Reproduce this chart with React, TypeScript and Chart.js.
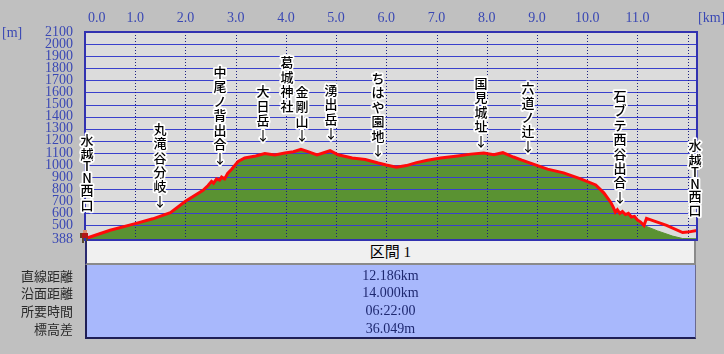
import React, { useEffect, useRef } from "react";
import { Chart, registerables } from "chart.js";

Chart.register(...registerables);

// ---- data ----
const trackKm = [
  0, 0.1, 0.5, 1.0, 1.35, 1.7, 2.0, 2.35, 2.45, 2.52,
  2.56, 2.62, 2.68, 2.72, 2.78, 2.84, 2.92, 3.05, 3.18, 3.4,
  3.58, 3.78, 3.98, 4.15, 4.3, 4.44, 4.62, 4.88, 5.04, 5.32,
  5.58, 5.84, 6.0, 6.2, 6.4, 6.6, 6.82, 7.08, 7.42, 7.68,
  7.94, 8.14, 8.32, 8.53, 8.7, 8.87, 9.01, 9.21, 9.53, 9.87,
  10.17, 10.33, 10.47, 10.52, 10.56, 10.6, 10.65, 10.7, 10.76, 10.82,
  10.88, 10.94, 11.0, 11.06, 11.13, 11.18, 11.58, 11.9, 12.0, 12.186,
];
const trackElev = [
  392, 405, 460, 515, 555, 605, 700, 790, 830, 865,
  850, 885, 875, 900, 885, 930, 965, 1030, 1058, 1075,
  1095, 1083, 1100, 1110, 1130, 1110, 1083, 1118, 1085, 1058,
  1045, 1016, 1000, 982, 995, 1020, 1040, 1058, 1075, 1090,
  1100, 1085, 1102, 1066, 1040, 1016, 995, 966, 935, 885,
  835, 770, 690, 650, 610, 630, 600, 615, 590, 600,
  570, 575, 545, 530, 500, 558, 500, 441, 445, 458,
];
// terrain follows the track until 11.13 km, then its own tail
const terrainTailKm = [11.4, 11.7, 11.9, 12.186];
const terrainTailElev = [455, 412, 392, 390];

const yTicks = [388, 500, 600, 700, 800, 900, 1000, 1100, 1200, 1300, 1400, 1500, 1600, 1700, 1800, 1900, 2000, 2100];
const xTickValues = [0, 1, 2, 3, 4, 5, 6, 7, 8, 9, 10, 11];
const xTickLabels = ["0.0", "1.0", "2.0", "3.0", "4.0", "5.0", "6.0", "7.0", "8.0", "9.0", "10.0", "11.0"];
const xGridKm = [1, 2, 3, 4, 5, 6, 7, 8, 9, 10, 11, 12];

const waypointNames = [
  "水越TN西口", "丸滝谷分岐", "中尾ノ背出合", "大日岳", "葛城神社", "金剛山",
  "湧出岳", "ちはや園地", "国見城址", "六道ノ辻", "石ブテ西谷出合", "水越TN西口",
];
const waypointKm = [0.04, 1.493, 2.688, 3.554, 4.022, 4.321, 4.89, 5.834, 7.895, 8.821, 10.653, 12.15];
const waypointArrow = [false, true, true, true, false, true, true, true, true, true, true, false];

const sectionTitle = "区間 1";
const summaryLabels = ["直線距離", "沿面距離", "所要時間", "標高差"];
const summaryValues = ["12.186km", "14.000km", "06:22:00", "36.049m"];

// ---- layout / style ----
const labelLiftPx = [33, 15.4, 21, 19.3, 47, 14.4, 18, 13, 12.4, 16.4, 16.4, 20.6];
const AXIS_COLOR = "#3a48b4";
const NUM_FONT = "'Liberation Serif', 'DejaVu Serif', serif";
const JP_FONT = "'Noto Sans CJK JP', sans-serif";

function elevAt(km: number): number {
  if (km <= trackKm[0]) return trackElev[0];
  for (let i = 1; i < trackKm.length; i++) {
    if (km <= trackKm[i]) {
      const t = (km - trackKm[i - 1]) / (trackKm[i] - trackKm[i - 1]);
      return trackElev[i - 1] + t * (trackElev[i] - trackElev[i - 1]);
    }
  }
  return trackElev[trackElev.length - 1];
}

const decorPlugin = {
  id: "profileDecor",
  beforeDraw(chart: any) {
    const { ctx, chartArea: a } = chart;
    ctx.save();
    ctx.fillStyle = "#dcdcdc";
    ctx.fillRect(a.left, a.top, a.right - a.left, a.bottom - a.top);
    ctx.restore();
  },
  afterDatasetDraw(chart: any, args: any) {
    if (args.index !== 1) return;
    const { ctx, chartArea: a, scales } = chart;
    const x = scales.x, y = scales.y;
    ctx.save();
    ctx.strokeStyle = "#3a40cc";
    ctx.lineWidth = 1;
    for (const v of yTicks) {
      if (v <= 388 || v >= 2100) continue;
      const py = Math.round(y.getPixelForValue(v)) + 0.5;
      ctx.beginPath();
      ctx.moveTo(a.left, py);
      ctx.lineTo(a.right, py);
      ctx.stroke();
    }
    ctx.strokeStyle = "#1c2080";
    ctx.setLineDash([1, 2]);
    for (const k of xGridKm) {
      const px = Math.round(x.getPixelForValue(k)) + 0.5;
      ctx.beginPath();
      ctx.moveTo(px, a.top);
      ctx.lineTo(px, a.bottom);
      ctx.stroke();
    }
    ctx.restore();
  },
  afterDraw(chart: any) {
    const { ctx, chartArea: a, scales } = chart;
    const x = scales.x, y = scales.y;
    ctx.save();
    // frame
    ctx.strokeStyle = "#3232b0";
    ctx.lineWidth = 2;
    ctx.strokeRect(a.left, a.top, a.right - a.left, a.bottom - a.top + 1);
    ctx.beginPath();
    ctx.moveTo(a.left - 1, a.top - 0.5);
    ctx.lineTo(a.right + 1, a.top - 0.5);
    ctx.lineWidth = 1;
    ctx.stroke();

    // top axis labels
    ctx.fillStyle = AXIS_COLOR;
    ctx.font = `14px ${NUM_FONT}`;
    ctx.textBaseline = "middle";
    xTickValues.forEach((k, i) => {
      const px = x.getPixelForValue(k);
      if (i === 0) {
        ctx.textAlign = "left";
        ctx.fillText(xTickLabels[i], px + 3, 18);
      } else {
        ctx.textAlign = "center";
        ctx.fillText(xTickLabels[i], px, 18);
      }
    });
    ctx.textAlign = "left";
    ctx.fillText("[km]", a.right + 1, 18);
    ctx.fillText("[m]", 2, 33);

    // waypoint labels
    ctx.font = `500 13px ${JP_FONT}`;
    ctx.textAlign = "center";
    ctx.textBaseline = "middle";
    ctx.lineJoin = "round";
    waypointNames.forEach((name, i) => {
      const glyphs = Array.from(name);
      if (waypointArrow[i]) glyphs.push("↓");
      const px = Math.round(x.getPixelForValue(waypointKm[i]));
      const lastCenter = y.getPixelForValue(elevAt(waypointKm[i])) - labelLiftPx[i];
      const centers: number[] = new Array(glyphs.length);
      centers[glyphs.length - 1] = lastCenter;
      const half = (c: string) => c.charCodeAt(0) < 0x2000;
      for (let j = glyphs.length - 2; j >= 0; j--) {
        const adv = half(glyphs[j]) || half(glyphs[j + 1]) ? 12 : 14.4;
        centers[j] = centers[j + 1] - adv;
      }
      glyphs.forEach((g, j) => {
        ctx.strokeStyle = "#ffffff";
        ctx.lineWidth = 3.5;
        ctx.strokeText(g, px, centers[j]);
        ctx.fillStyle = "#000000";
        ctx.fillText(g, px, centers[j]);
      });
    });

    // hiker marker at start
    const sx = Math.round(x.getPixelForValue(0));
    const sy = Math.round(y.getPixelForValue(trackElev[0]));
    ctx.fillStyle = "#d89070";
    ctx.fillRect(sx - 2, sy - 9, 4, 3);
    ctx.fillStyle = "#b01818";
    ctx.fillRect(sx - 3, sy - 6, 6, 5);
    ctx.fillStyle = "#6a3a1a";
    ctx.fillRect(sx - 5, sy - 6, 2, 5);
    ctx.fillStyle = "#5a4a30";
    ctx.fillRect(sx - 3, sy - 1, 2, 5);
    ctx.fillRect(sx + 1, sy - 1, 2, 5);
    ctx.restore();
  },
};

export default function App() {
  const canvasRef = useRef<HTMLCanvasElement>(null);

  useEffect(() => {
    const splitIdx = trackKm.indexOf(11.13) + 1;
    const trackPts = trackKm.map((k, i) => ({ x: k, y: trackElev[i] }));
    const terrainPts = trackPts
      .slice(0, splitIdx)
      .concat(terrainTailKm.map((k, i) => ({ x: k, y: terrainTailElev[i] })));

    const chart = new Chart(canvasRef.current as HTMLCanvasElement, {
      type: "line",
      data: {
        datasets: [
          {
            label: "track",
            data: trackPts,
            borderColor: "#ff0a0a",
            borderWidth: 3,
            pointRadius: 0,
            fill: false,
            tension: 0,
            order: 0,
          },
          {
            label: "terrain",
            data: terrainPts,
            borderColor: "#5a9232",
            backgroundColor: "#5a9232",
            borderWidth: 1,
            pointRadius: 0,
            fill: "start",
            tension: 0,
            order: 1,
          },
        ],
      },
      options: {
        animation: false,
        responsive: false,
        maintainAspectRatio: false,
        layout: { padding: { top: 32, right: 27, bottom: 115, left: 0 } },
        plugins: { legend: { display: false }, tooltip: { enabled: false } },
        scales: {
          x: { type: "linear", min: 0, max: 12.186, display: false },
          y: {
            type: "linear",
            min: 388,
            max: 2100,
            afterBuildTicks: (s: any) => {
              s.ticks = yTicks.map((v) => ({ value: v }));
            },
            afterFit: (s: any) => {
              s.width = 85;
            },
            grid: { display: false, drawTicks: false },
            border: { display: false },
            ticks: {
              autoSkip: false,
              padding: 12,
              color: AXIS_COLOR,
              font: { family: NUM_FONT, size: 14 },
              callback: (v: any) => String(v),
            },
          },
        },
      },
      plugins: [decorPlugin],
    } as any);
    return () => chart.destroy();
  }, []);

  const rowCenters = [275.5, 293.3, 311.1, 328.9];

  return (
    <div
      style={{
        position: "fixed",
        left: 0,
        top: 0,
        width: 724,
        height: 354,
        background: "#c0c0c0",
        overflow: "hidden",
      }}
    >
      <canvas
        ref={canvasRef}
        width={724}
        height={354}
        style={{ position: "absolute", left: 0, top: 0, width: 724, height: 354 }}
      />
      <div
        style={{
          position: "absolute",
          left: 85,
          top: 241,
          width: 611,
          height: 24,
          boxSizing: "border-box",
          background: "#f0f0f0",
          borderLeft: "2px solid #2a2a70",
          borderRight: "2px solid #8a8a8a",
          borderBottom: "2px solid #8a8a8a",
          textAlign: "center",
          lineHeight: "22px",
          fontFamily: `${NUM_FONT}, 'Noto Sans CJK JP'`,
          fontSize: 15,
          color: "#000",
        }}
      >
        {sectionTitle}
      </div>
      <div
        style={{
          position: "absolute",
          left: 85,
          top: 265,
          width: 611,
          height: 74,
          boxSizing: "border-box",
          background: "#a8b8fc",
          borderLeft: "2px solid #1e1e56",
          borderBottom: "2px solid #1e1e56",
          borderRight: "1px solid #6a6a90",
        }}
      />
      {summaryLabels.map((lab, i) => (
        <div
          key={"l" + i}
          style={{
            position: "absolute",
            right: 724 - 73,
            top: rowCenters[i] - 9,
            height: 18,
            lineHeight: "18px",
            fontFamily: JP_FONT,
            fontSize: 13,
            color: "#2a2a2a",
            whiteSpace: "nowrap",
          }}
        >
          {lab}
        </div>
      ))}
      {summaryValues.map((val, i) => (
        <div
          key={"v" + i}
          style={{
            position: "absolute",
            left: 85,
            width: 611,
            top: rowCenters[i] - 9,
            height: 18,
            lineHeight: "18px",
            textAlign: "center",
            fontFamily: NUM_FONT,
            fontSize: 14,
            color: "#1e2870",
          }}
        >
          {val}
        </div>
      ))}
    </div>
  );
}
